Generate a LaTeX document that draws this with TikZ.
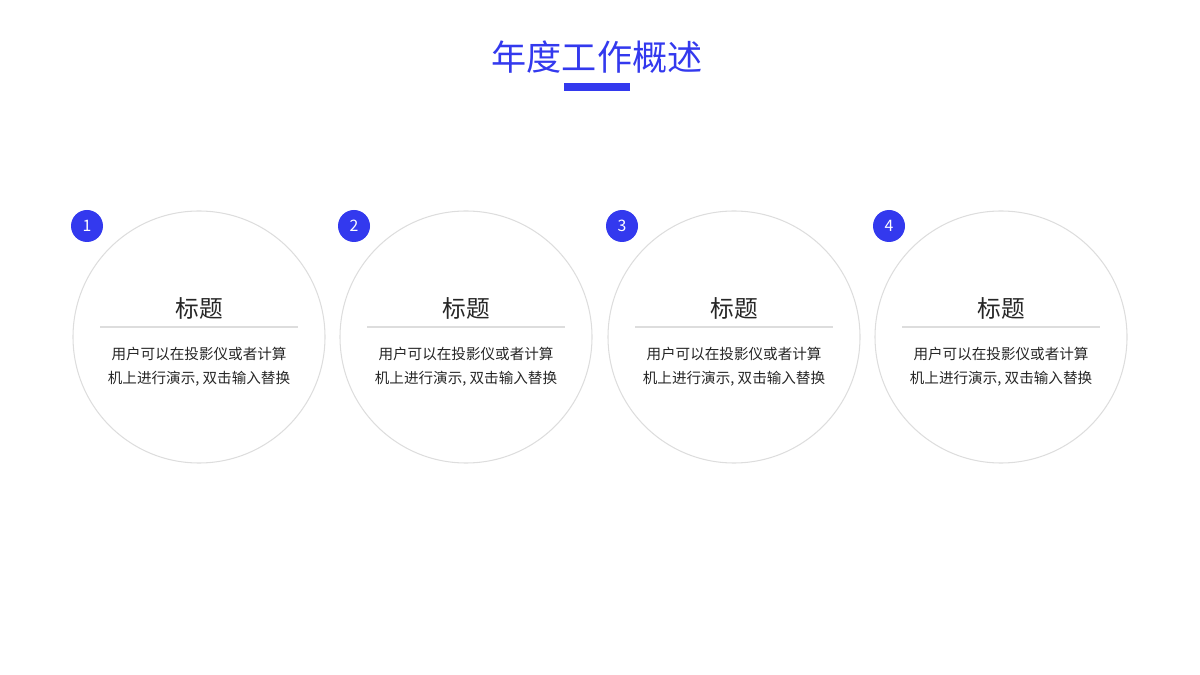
\documentclass[tikz,border=0pt]{standalone}
\usepackage{fontspec}
\setmainfont{Noto Sans CJK SC}
\definecolor{blu}{HTML}{3339EE}
\definecolor{gr}{HTML}{DDDDDD}
\begin{document}
\begin{tikzpicture}[x=0.02cm,y=-0.02cm,
  ring/.style={draw=gr,line width=0.6pt,circle,minimum size=252*0.02cm,inner sep=0},
  badge/.style={fill=blu,circle,minimum size=32*0.02cm,inner sep=0,text=white,font=\fontsize{9}{10}\selectfont},
  ttl/.style={font=\fontsize{13.5}{15}\selectfont,text=black!85},
  body/.style={font=\fontsize{8.3}{13.6}\selectfont,align=center,text=black!85}]
\useasboundingbox (0,0) rectangle (1200,675);
\node[text=blu,font=\fontsize{20}{24}\selectfont] (title) at (597,57) {年度工作概述};
\fill[blu] (564,83) rectangle (630,91);
\foreach \i/\x in {1/199,2/466,3/734,4/1001}{
  \node[ring] (c\i) at (\x,337) {};
  \node[badge] (b\i) at (\x-112,226) {\i};
  \node[ttl] (t\i) at (\x,308) {标题};
  \draw[gr,line width=0.6pt] (\x-99,327) -- (\x+99,327);
  \node[body] (d\i) at (\x,367) {用户可以在投影仪或者计算\\机上进行演示, 双击输入替换};
}
\end{tikzpicture}
\end{document}
